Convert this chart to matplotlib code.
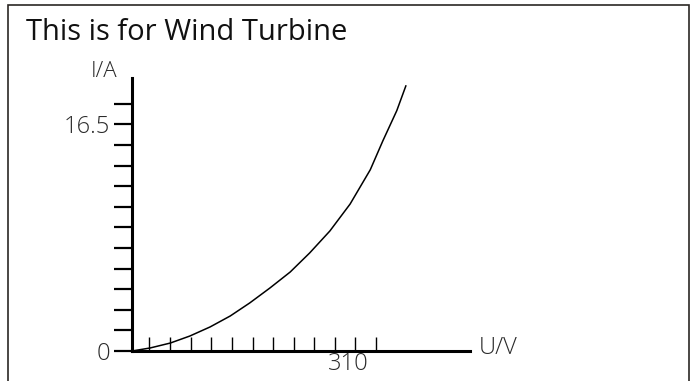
import matplotlib.pyplot as plt
from matplotlib.patches import Rectangle
from matplotlib.transforms import blended_transform_factory

# U-I characteristic of the turbine generator
voltage = [0, 26, 55, 83, 112, 141, 169, 198, 227, 255, 284, 313, 342, 360, 380, 393]
current = [0, 0.22, 0.58, 1.09, 1.75, 2.55, 3.50, 4.59, 5.75, 7.14, 8.74, 10.7, 13.2, 15.3, 17.5, 19.3]

y_ticks = [0, 1.5, 3, 4.5, 6, 7.5, 9, 10.5, 12, 13.5, 15, 16.5, 18]
y_labels = ['0', '', '', '', '', '', '', '', '', '', '', '16.5', '']
x_ticks = [24, 54, 84, 113, 143, 173, 202, 232, 261, 291, 320, 350]
x_mark = 310

plt.rcParams['font.family'] = ['Open Sans', 'DejaVu Sans']
txt = '#2a2a2a'

fig = plt.figure(figsize=(6.91, 3.81), dpi=100)
W, H = 691, 381

# frame round the whole graphic
fig.patches.append(Rectangle((8 / W, -0.05), 681 / W, 1.05 - 4.5 / H,
                             transform=fig.transFigure, fill=False,
                             edgecolor='#2b2724', linewidth=1.2))
fig.text(26 / W, 1 - 40 / H, 'This is for Wind Turbine', fontsize=21,
         color='#111111', va='baseline', ha='left')

ax = fig.add_axes([132 / W, 30 / H, 338 / W, 273 / H])
ax.set_xlim(0, 338 * 310 / 216)
ax.set_ylim(0, 273 * 1.5 / 20.6)

ax.plot(voltage, current, color='black', linewidth=1.1)

for s in ['top', 'right']:
    ax.spines[s].set_visible(False)
for s in ['left', 'bottom']:
    ax.spines[s].set_linewidth(2.2)
    ax.spines[s].set_color('black')

ax.set_yticks(y_ticks)
ax.set_yticklabels(y_labels)
ax.tick_params(axis='y', direction='out', length=13, width=1.6, pad=3,
               labelsize=17, labelcolor=txt)
ax.set_xticks(x_ticks)
ax.set_xticklabels([])
ax.tick_params(axis='x', direction='in', length=10, width=1.0)
for lab in ax.get_yticklabels():
    lab.set_fontweight('light')

trans = blended_transform_factory(ax.transData, ax.transAxes)
ax.text(x_mark, -0.005, str(x_mark), transform=trans, ha='center', va='top',
        fontsize=17, color=txt, fontweight='light')
ax.text(1.025, 0.01, 'U/V', transform=ax.transAxes, ha='left', va='center',
        fontsize=17, color=txt, fontweight='light')
ax.text(-0.042, 1.025, 'I/A', transform=ax.transAxes, ha='right', va='center',
        fontsize=16, color=txt, fontweight='light')

fig.savefig('out.png', dpi=100)
